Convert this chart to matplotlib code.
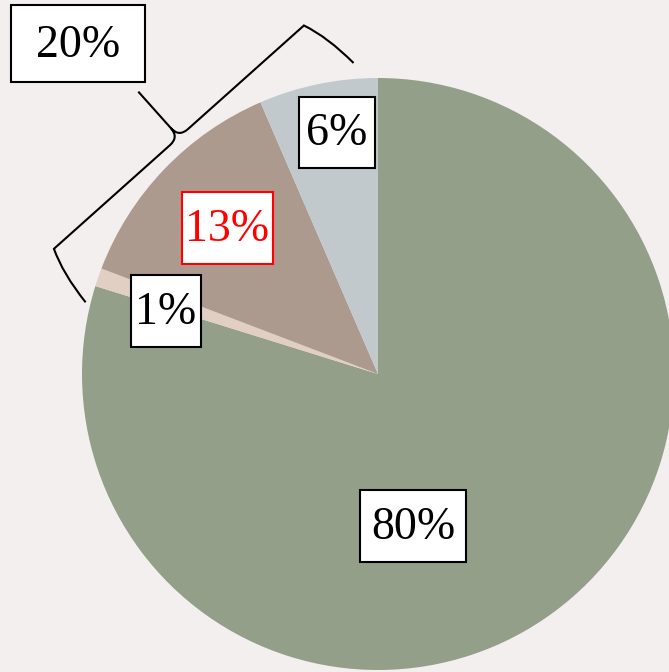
import numpy as np
import matplotlib
matplotlib.use("Agg")
import matplotlib.pyplot as plt
from matplotlib.patches import Rectangle, PathPatch
from matplotlib.path import Path

# data
shares = [79.8, 1.0, 12.7, 6.5]
labels = ["80%", "1%", "13%", "6%"]
colors = ["#939f89", "#e0cfc2", "#ac9a8f", "#c1c9cc"]
group_label = "20%"

bg = "#f3efee"
W, H = 669, 672
fig = plt.figure(figsize=(W / 100, H / 100), dpi=100, facecolor=bg)
ax = fig.add_axes([0, 0, 1, 1])
ax.set_facecolor(bg)

cx, cy, r = 378, 298, 296
ax.pie(shares, colors=colors, startangle=90, counterclock=False,
       center=(cx, cy), radius=r, wedgeprops=dict(linewidth=0))
ax.set_xlim(0, W)
ax.set_ylim(0, H)
ax.set_aspect("auto")
ax.axis("off")

font = "Liberation Serif"


def box(x, y, w, h, text, color="black"):
    # x, y given in pixel coords from the top-left corner
    yy = H - y
    ax.add_patch(Rectangle((x - w / 2, yy - h / 2), w, h, facecolor="white",
                           edgecolor=color, lw=1.5, zorder=5))
    ax.text(x, yy - 2, text, ha="center", va="center", fontsize=33,
            family=font, color=color, zorder=6)


box(413, 526, 106, 72, labels[0])
box(166, 311, 70, 72, labels[1])
box(227.5, 228, 91, 72, labels[2], color="red")
box(337, 132, 76, 71, labels[3])
box(78, 43.5, 134, 77, group_label)

# curly brace over the 20% group (1% + 13% + 6%)
grp = sum(shares[1:]) * 3.6
a1 = np.radians(90 + grp + 3.5)
a2 = np.radians(90 + 4.5)
e1 = np.array([cx + 1.017 * r * np.cos(a1), cy + 1.017 * r * np.sin(a1)])
e2 = np.array([cx + 1.054 * r * np.cos(a2), cy + 1.054 * r * np.sin(a2)])
L = np.linalg.norm(e2 - e1)
u = (e2 - e1) / L
n = np.array([-u[1], u[0]])
h = 61
m = L / 2
local = [
    ((0, 0), Path.MOVETO),
    ((2, h * 0.6), Path.CURVE3), ((12, h), Path.CURVE3),
    ((m - 12, h), Path.LINETO),
    ((m, h), Path.CURVE3), ((m, h + 12), Path.CURVE3),
    ((m, 2 * h), Path.LINETO),
    ((m, h + 12), Path.MOVETO),
    ((m, h), Path.CURVE3), ((m + 12, h), Path.CURVE3),
    ((L - 12, h), Path.LINETO),
    ((L - 2, h * 0.6), Path.CURVE3), ((L, 0), Path.CURVE3),
]
verts = [e1 + s * u + t * n for (s, t), _ in local]
codes = [c for _, c in local]
ax.add_patch(PathPatch(Path(verts, codes), facecolor="none",
                       edgecolor="black", lw=1.5, zorder=4))

fig.savefig("out.png", dpi=100, facecolor=bg)
